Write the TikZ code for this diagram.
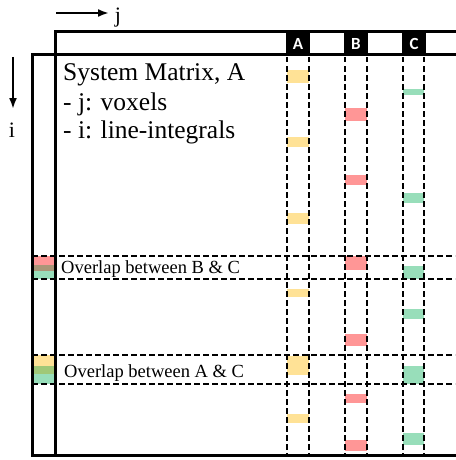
\documentclass[tikz,border=0pt]{standalone}
\usepackage{fontspec}
\setmainfont{Liberation Serif}
\newfontfamily\hdrfont{Carlito}
\usetikzlibrary{arrows.meta}

\definecolor{ayel}{RGB}{255,226,150}
\definecolor{bred}{RGB}{255,150,150}
\definecolor{cgrn}{RGB}{152,222,186}
\definecolor{rgmix}{RGB}{170,150,120}
\definecolor{ygmix}{RGB}{160,200,120}

\tikzset{
  frame/.style={line width=3pt, line cap=rect},
  grid/.style={line width=1.5pt, dash pattern=on 5.5pt off 3.5pt},
  hdrbox/.style={fill=black, minimum width=24pt, minimum height=22pt, inner sep=0pt,
    text=white, font=\hdrfont\bfseries\fontsize{17}{17}\selectfont},
  txt/.style={inner sep=0pt, anchor=base west},
  big/.style={txt, font=\fontsize{25.5}{28}\selectfont},
  small/.style={txt, font=\fontsize{18.5}{20}\selectfont},
  axis/.style={line width=2pt, -{Latex[length=11pt,width=8pt]}},
  axlabel/.style={inner sep=0pt, font=\fontsize{22}{22}\selectfont},
}

\begin{document}
\begin{tikzpicture}[x=1pt,y=-1pt]
\useasboundingbox (0,0) rectangle (455,460);

% coloured entries of column A
\foreach \a/\b in {70/83, 137/147, 213/224, 289/297, 356/375, 414/423}
  \fill[ayel] (287,\a) rectangle (309,\b);
% coloured entries of column B
\foreach \a/\b in {108/121, 175/185, 256/270, 334/346, 394/403, 440/451}
  \fill[bred] (345,\a) rectangle (367,\b);
% coloured entries of column C
\foreach \a/\b in {89/95, 193/203, 266/279, 309/319, 366/384, 433/445}
  \fill[cgrn] (403,\a) rectangle (424,\b);

% summed rows in the left strip
\fill[bred]  (32,256) rectangle (55,265);
\fill[rgmix] (32,265) rectangle (55,271);
\fill[cgrn]  (32,271) rectangle (55,279);
\fill[ayel]  (32,355) rectangle (55,366);
\fill[ygmix] (32,366) rectangle (55,374);
\fill[cgrn]  (32,374) rectangle (55,384);

% dashed column guides
\foreach \x in {287,309,345,367,403,424}
  \draw[grid] (\x,57) -- (\x,455);
% dashed row guides
\foreach \y in {256,279,355,384}
  \draw[grid] (32,\y) -- (455,\y);

% matrix frames
\draw[frame] (455,32) -- (55,32) -- (55,455);
\draw[frame] (455,55) -- (32,55) -- (32,455) -- (455,455);

% column headers
\node[hdrbox] (hA) at (298,44) {A};
\node[hdrbox] (hB) at (356,44) {B};
\node[hdrbox] (hC) at (414,44) {C};

% caption
\node[big] (t1) at (63,81) {System Matrix, A};
\node[big] (t2) at (63,110) {- j: voxels};
\node[big] (t3) at (63,138) {- i: line-integrals};

\node[small] (oBC) at (61,273) {Overlap between B \& C};
\node[small] (oAC) at (64,377) {Overlap between A \& C};

% index directions
\coordinate (js) at (56,13);
\coordinate (je) at (109,13);
\draw[axis] (js) -- (je);
\node[axlabel, anchor=base] (jl) at (118,23) {j};

\coordinate (is) at (13,57);
\coordinate (ie) at (13,109);
\draw[axis] (is) -- (ie);
\node[axlabel, anchor=base] (il) at (12,137) {i};
\end{tikzpicture}
\end{document}
